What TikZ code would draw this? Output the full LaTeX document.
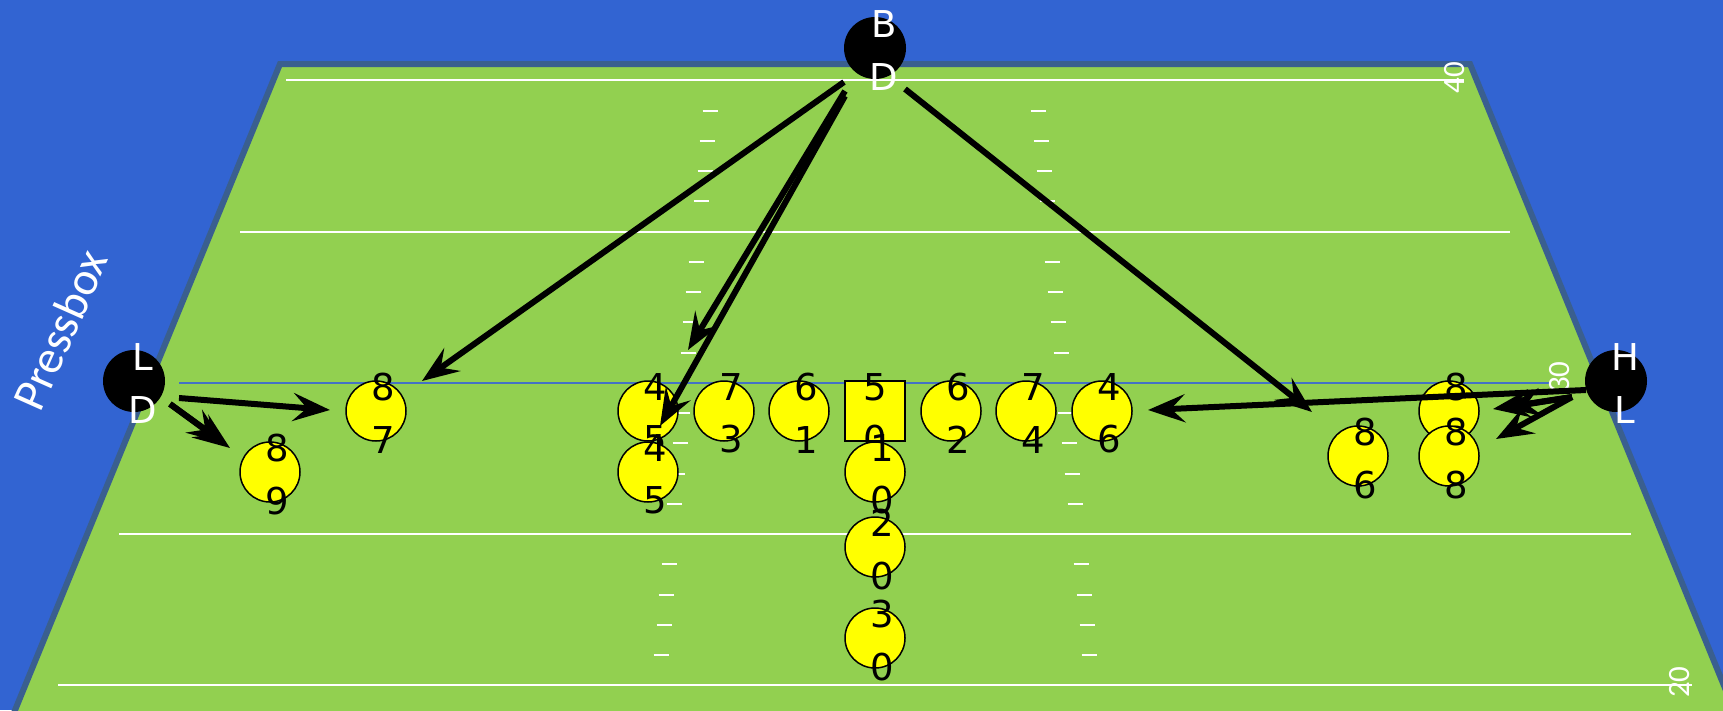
\documentclass[tikz,border=0pt]{standalone}
\usepackage{fontspec}
\setmainfont{DejaVu Sans}
\newfontfamily\fieldfont{Carlito}
\usetikzlibrary{arrows.meta}
\definecolor{fieldblue}{HTML}{3264D2}
\definecolor{fieldgreen}{HTML}{92D050}
\definecolor{fieldedge}{HTML}{3A5F8F}
\definecolor{scrimmage}{HTML}{4472C4}
\definecolor{shirt}{HTML}{FFFF00}
\tikzset{
    %Define style for numbers and letters
    num/.style={
           align=center,
           inner sep=0pt,
           yshift=-2.5pt,
           font=\fontsize{37}{52.5}\selectfont},
    %Define style for offence
    player/.style={
           circle,
           draw=black, line width=1.5pt,
           fill=shirt,
           minimum size=60pt,
           inner sep=0pt,
           label={[num,xshift=7pt]center:{#1}}},
    center/.style={
           rectangle,
           draw=black, line width=1.5pt,
           fill=shirt,
           minimum size=60pt,
           inner sep=0pt,
           label={[num]center:{#1}}},
    %Define style for cameras
    camera/.style={
           circle,
           fill=black,
           minimum size=62pt,
           inner sep=0pt,
           label={[num,text=white,xshift=9pt]center:{#1}}},
    yardline/.style={white, line width=2pt},
    yardnum/.style={text=white, rotate=90, inner sep=0pt,
           font=\fieldfont\fontsize{31}{31}\selectfont},
    % Define arrow style
    pil/.style={
           -{Stealth[length=37pt,width=28pt,inset=14pt]},
           black, line width=6pt}
}
\begin{document}
\begin{tikzpicture}[x=1pt,y=-1pt]
\useasboundingbox (0,0) rectangle (1723,710);
\clip (0,0) rectangle (1723,710);
\fill[fieldblue] (0,0) rectangle (1723,710);
\draw[fieldedge,fill=fieldgreen,line width=6pt] (280,64) -- (1470,64) -- (1738,720) -- (11,720) -- cycle;
% yard lines
\foreach \y/\xa/\xb in {80/286/1464,232/240/1510,534/119/1631,685/58/1692}
	\draw[yardline] (\xa,\y) -- (\xb,\y);
% hash marks
\foreach \y/\xl/\xr in {111/710/1038,141/707/1041,171/705/1044,201/701/1047,
	262/696/1052,292/693/1055,322/690/1058,353/688/1061,
	413/682/1065,443/680/1069,474/677/1072,504/674/1075,
	564/669/1081,595/666/1084,625/664/1087,655/661/1089}{
	\draw[white, line width=2pt] (\xl-7.5,\y) -- (\xl+7.5,\y);
	\draw[white, line width=2pt] (\xr-7.5,\y) -- (\xr+7.5,\y);
}
\draw[scrimmage, line width=1.5pt] (179,383) -- (1551,383);
\node[yardnum](y40) at (1455,78){40};
\node[yardnum](y30) at (1560,377){30};
\node[yardnum](y20) at (1680,682){20};
\node[text=white, rotate=66, font=\fieldfont\fontsize{47}{47}\selectfont](press) at (60,330){Pressbox};
% players
\node[player={8\\9}](p89) at (270,472){};
\node[player={8\\7}](p87) at (376,411){};
\node[player={4\\5}](p45a) at (648,411){};
\node[player={4\\5}](p45b) at (648,472){};
\node[player={7\\3}](p73) at (724,411){};
\node[player={6\\1}](p61) at (799,411){};
\node[center={5\\0}](p50) at (875,411){};
\node[player={1\\0}](p10) at (875,472){};
\node[player={2\\0}](p20) at (875,547){};
\node[player={3\\0}](p30) at (875,638){};
\node[player={6\\2}](p62) at (951,411){};
\node[player={7\\4}](p74) at (1026,411){};
\node[player={4\\6}](p46) at (1102,411){};
\node[player={8\\6}](p86) at (1358,456){};
\node[player={8\\8}](p88a) at (1449,411){};
\node[player={8\\8}](p88b) at (1449,456){};
% cameras
\node[camera={L\\D}](LD) at (134,381){};
\node[camera={B\\D}](BD) at (875,48){};
\node[camera={H\\L}](HL) at (1616,381){};
% runs
\draw[pil] ([shift={(45,17)}]LD.center) -- ([shift={(-46,-1)}]p87.center);
\draw[pil] ([shift={(36,23)}]LD.center) -- ([shift={(-46,-29)}]p89.center);
\draw[pil] ([shift={(36,23)}]LD.center) -- ([shift={(-40,-24)}]p89.center);
\draw[pil] ([shift={(-31,34)}]BD.center) -- ([shift={(46,-30)}]p87.center);
\draw[pil] ([shift={(-30,43)}]BD.center) -- ([shift={(40,-61)}]p45a.center);
\draw[pil] ([shift={(-30,48)}]BD.center) -- ([shift={(12,15)}]p45a.center);
\draw[pil] ([shift={(30,41)}]BD.center) -- ([shift={(210,1)}]p46.center);
\draw[pil] ([shift={(-30,9)}]HL.center) -- ([shift={(46,-1)}]p46.center);
\draw[pil] ([shift={(-44,16)}]HL.center) -- ([shift={(44,-2)}]p88a.center);
\draw[pil] ([shift={(-44,16)}]HL.center) -- ([shift={(55,-3)}]p88a.center);
\draw[pil] ([shift={(-44,16)}]HL.center) -- ([shift={(47,-17)}]p88b.center);
\end{tikzpicture}
\end{document}
